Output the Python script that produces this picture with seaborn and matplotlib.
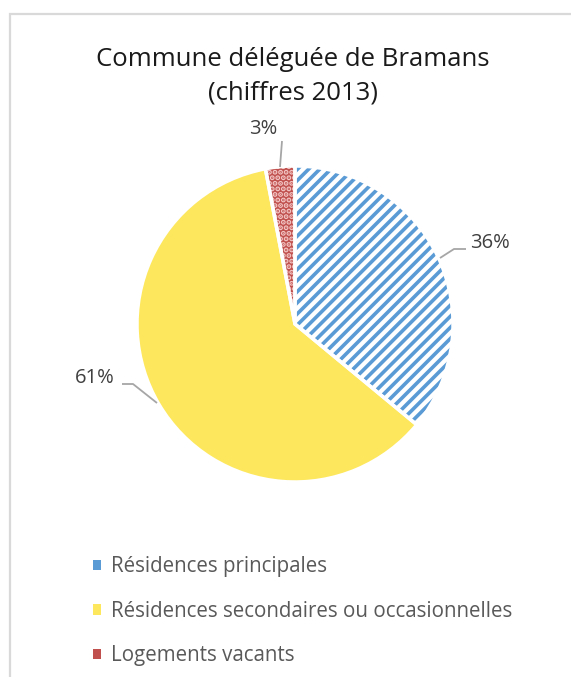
import matplotlib
matplotlib.use("Agg")
import matplotlib.pyplot as plt
import matplotlib.patches as mpatches
import seaborn as sns

# Housing breakdown, Bramans 2013
categories = ["Résidences principales",
              "Résidences secondaires ou occasionnelles",
              "Logements vacants"]
shares = [36, 61, 3]
pct_labels = ["36%", "61%", "3%"]
title_text = "Commune déléguée de Bramans\n(chiffres 2013)"

sns.set_theme(style="white")
plt.rcParams["font.family"] = ["Open Sans", "DejaVu Sans"]
plt.rcParams["hatch.linewidth"] = 2.6

W, H = 571, 677
fig = plt.figure(figsize=(W / 100, H / 100), dpi=100)
fig.patch.set_facecolor("white")

# light chart-area frame (extends past the right and bottom edges)
fig.add_artist(mpatches.Rectangle((9.5 / W, -0.1), 1.2, 1.1 - 13.5 / H,
                                  transform=fig.transFigure, fill=False,
                                  edgecolor="#d9d9d9", linewidth=1.6))

# pie axes, centred at (295, 324) px with radius 158 px
cx, cy, R = 295, 324, 158
ax = fig.add_axes([(cx - R) / W, 1 - (cy + R) / H, 2 * R / W, 2 * R / H])

face = ["white", "#FDE75D", "#C0504D"]
hatch_col = ["#5B9BD5", "#FDE75D", "#F2C6C5"]
hatches = ["///", None, "..."]

wedges, _ = ax.pie(shares, startangle=90, counterclock=False, radius=1.0,
                   wedgeprops=dict(linewidth=0))
for w, fc, hc, hp in zip(wedges, face, hatch_col, hatches):
    w.set_facecolor(fc)
    w.set_edgecolor(hc)
    w.set_linewidth(0)
    if hp:
        w.set_hatch(hp)
# white separators between slices
ax.pie(shares, startangle=90, counterclock=False, radius=1.0,
       wedgeprops=dict(fill=False, edgecolor="white", linewidth=2.5))
ax.set_xlim(-1, 1)
ax.set_ylim(-1, 1)
ax.set_aspect("equal")
ax.axis("off")


def px(x, y):
    return ((x - cx) / R, (cy - y) / R)


lead = "#a6a6a6"
txt = "#404040"
# leader lines and value labels
segs = [
    [(440, 258), (454, 249), (466, 249)],
    [(157, 403), (133, 384), (122, 384)],
    [(280, 167), (282, 141)],
]
label_pos = [(490, 243), (95, 378), (263, 129)]
for seg, lab, pos in zip(segs, pct_labels, label_pos):
    xs, ys = zip(*[px(*p) for p in seg])
    ax.plot(xs, ys, color=lead, linewidth=1.3, clip_on=False,
            solid_capstyle="butt")
    tx, ty = px(*pos)
    ax.text(tx, ty, lab, ha="center", va="center", fontsize=14.5,
            color=txt, clip_on=False)

fig.text(293 / W, 1 - 76 / H, title_text, ha="center", va="center",
         fontsize=18.5, color="#1a1a1a", linespacing=1.45)

handles = [mpatches.Patch(facecolor=fc, linewidth=0)
           for fc in ["#5B9BD5", "#FDE75D", "#C0504D"]]
fig.legend(handles, categories, loc="upper left",
           bbox_to_anchor=(85 / W, 1 - 548 / H), frameon=False,
           fontsize=14.8, labelcolor="#595959", handlelength=0.4,
           handleheight=0.4, handletextpad=0.45, labelspacing=1.15,
           borderaxespad=0)

fig.savefig("out.png", dpi=100, facecolor="white")
